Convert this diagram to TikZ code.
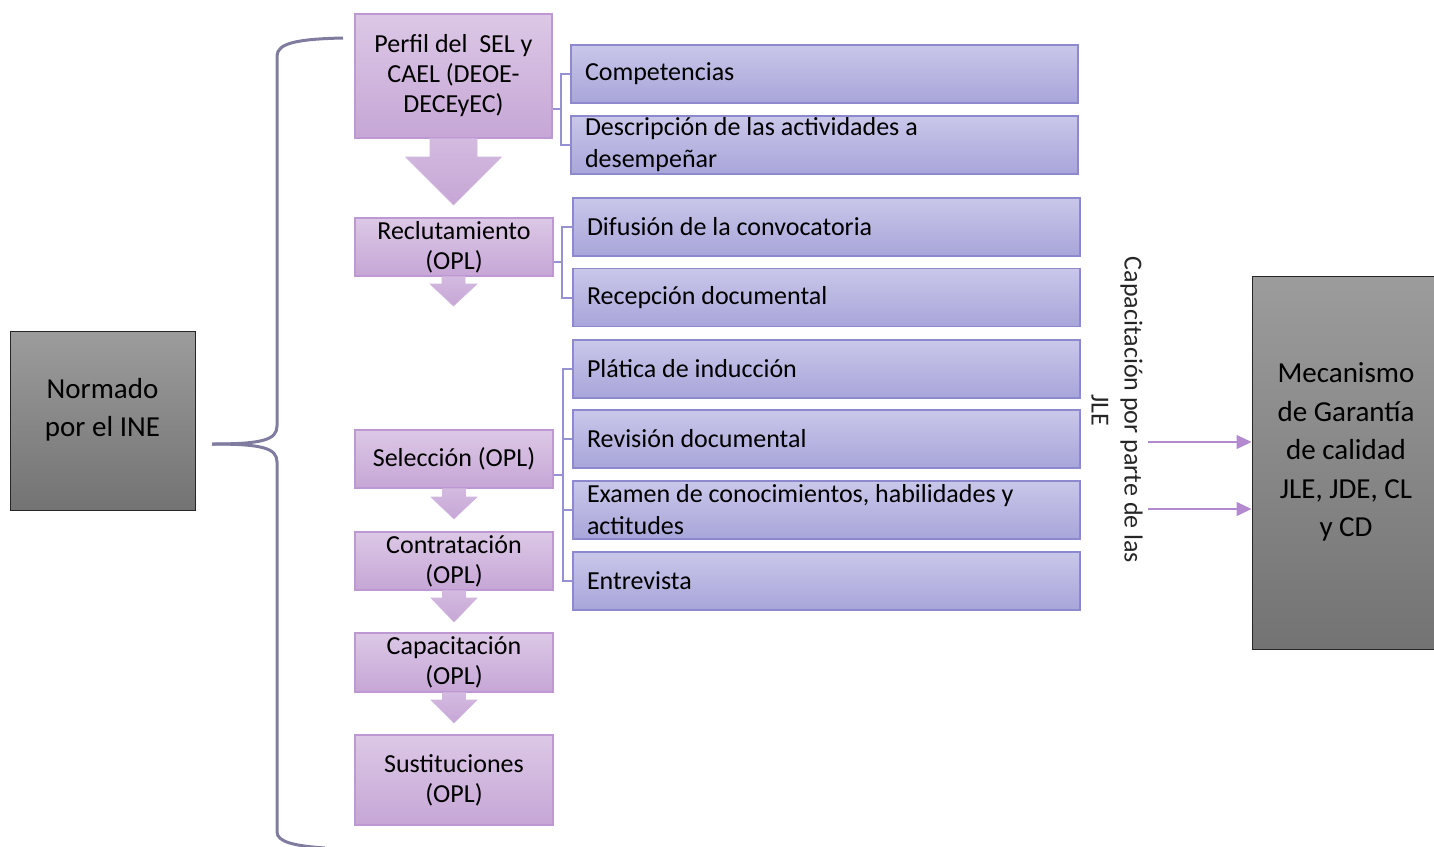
\documentclass[tikz,border=0pt]{standalone}
\usepackage{fontspec}
\setmainfont{Carlito}
\usetikzlibrary{arrows.meta}
\definecolor{pTop}{HTML}{DCC8E6}
\definecolor{pBot}{HTML}{C6A6D6}
\definecolor{pLine}{HTML}{BE98D2}
\definecolor{bTop}{HTML}{C9C7E9}
\definecolor{bBot}{HTML}{A8A5DA}
\definecolor{bLine}{HTML}{8D89CE}
\definecolor{gTop}{HTML}{9C9C9C}
\definecolor{gBot}{HTML}{737373}
\definecolor{braceC}{HTML}{7F7CA0}
\definecolor{connC}{HTML}{9591D2}
\definecolor{arrC}{HTML}{B38AD0}
\newcommand\mydownarrow[6]{\path[darrow] (#1-#2,#4) -- (#1+#2,#4) -- (#1+#2,#5) -- (#1+#3,#5) -- (#1,#6) -- (#1-#3,#5) -- (#1-#2,#5) -- cycle;}
\begin{document}
\begin{tikzpicture}[x=1pt,y=-1pt,
  natspace/.style={execute at begin node={\spaceskip=0pt\xspaceskip=0pt\relax}},
  pbox/.style={draw=pLine, line width=1.2pt, top color=pTop, bottom color=pBot, minimum width=198, align=center, inner sep=0, natspace, font=\fontsize{26}{30}\selectfont},
  bbox/.style={draw=bLine, line width=1.2pt, top color=bTop, bottom color=bBot, minimum width=507, minimum height=58, text width=479, inner xsep=14, inner ysep=0, align=left, natspace, font=\fontsize{26}{32}\selectfont},
  gbox/.style={draw=black!85, line width=1pt, top color=gTop, bottom color=gBot, inner sep=0},
  gtext/.style={align=center, natspace, font=\fontsize{29}{38.5}\selectfont},
  darrow/.style={draw=pLine!70, line width=0.6pt, top color=pTop!60!pBot, bottom color=pBot},
  conn/.style={draw=connC, line width=2pt},
  bracestyle/.style={draw=braceC, line width=3pt},
  rarr/.style={draw=arrC, line width=1.2pt, -{Triangle[length=15pt,width=14pt]}}
]
\useasboundingbox (0,0) rectangle (1434,846);

% gray boxes
\node[gbox, minimum width=185, minimum height=179] (norm) at (102.5,420.5) {};
\node[gtext] (normt) at (102.5,410) {Normado\\por el INE};
\node[gbox, minimum width=182, minimum height=373] (mec) at (1343,462.5) {};
\node[gtext] (mect) at (1346,452) {Mecanismo\\de Garantía\\de calidad\\JLE, JDE, CL\\y CD};

% brace
\draw[bracestyle] (343,38) .. controls (298,39) and (277,43) .. (277,56) -- (277,426)
  .. controls (277,440) and (262,444) .. (212,444);
\draw[bracestyle] (212,444) .. controls (262,444) and (277,448) .. (277,462) -- (277,832)
  .. controls (277,842) and (295,846) .. (325,848);

% purple boxes
\node[pbox, minimum height=124, minimum width=197] (perfil) at (453.5,76) {Perfil del\ \ SEL y\\CAEL (DEOE-\\DECEyEC)};
\node[pbox, minimum height=58] (recl) at (454,247) {Reclutamiento\\(OPL)};
\node[pbox, minimum height=58] (sel) at (454,459) {Selección (OPL)};
\node[pbox, minimum height=58] (contr) at (454,561) {Contratación\\(OPL)};
\node[pbox, minimum height=59] (capac) at (454,662.5) {Capacitación\\(OPL)};
\node[pbox, minimum height=90] (sust) at (454,780) {Sustituciones\\(OPL)};

% down arrows
\mydownarrow{453.5}{23.5}{48}{138.6}{157}{205}
\mydownarrow{453.5}{11.5}{23.5}{276.6}{284}{306}
\mydownarrow{454}{11.5}{23}{488.6}{497}{519}
\mydownarrow{454}{11.5}{23}{590.6}{598}{622}
\mydownarrow{454}{11.5}{23}{692.6}{700}{723}

% blue boxes
\node[bbox] (comp) at (824.5,74) {Competencias};
\node[bbox] (desc) at (824.5,145) {Descripción de las actividades a\\desempeñar};
\node[bbox] (difu) at (826.5,227) {Difusión de la convocatoria};
\node[bbox] (rece) at (826.5,297.5) {Recepción documental};
\node[bbox] (plat) at (826.5,369) {Plática de inducción};
\node[bbox] (revi) at (826.5,439) {Revisión documental};
\node[bbox] (exam) at (826.5,510) {Examen de conocimientos, habilidades y\\actitudes};
\node[bbox] (entr) at (826.5,581) {Entrevista};

% connectors
\coordinate (j1) at (561,109);
\coordinate (j2) at (562,262);
\coordinate (j3) at (563,475);
\draw[conn] (perfil.east |- j1) -- (j1);
\draw[conn] (comp.west) -| (j1);
\draw[conn] (desc.west) -| (j1);
\draw[conn] (recl.east |- j2) -- (j2);
\draw[conn] (difu.west) -| (j2);
\draw[conn] (rece.west) -| (j2);
\draw[conn] (sel.east |- j3) -- (j3);
\draw[conn] (plat.west) -| (j3);
\draw[conn] (revi.west) -| (j3);
\draw[conn] (exam.west) -| (j3);
\draw[conn] (entr.west) -| (j3);

% rotated label and arrows
\node[rotate=-90, align=center, natspace, text=black!85, font=\fontsize{26}{33}\selectfont] (cap) at (1117,410) {Capacitación por parte de las\\JLE};
\coordinate (a1) at (1148,442);
\coordinate (a2) at (1148,509);
\draw[rarr] (a1) -- (a1 -| mec.west);
\draw[rarr] (a2) -- (a2 -| mec.west);
\end{tikzpicture}
\end{document}
